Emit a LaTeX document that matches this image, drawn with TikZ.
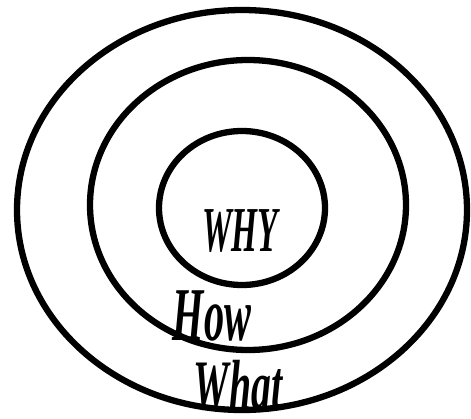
\documentclass[tikz,border=0pt]{standalone}
\usepackage{fontspec}
\setmainfont{Liberation Serif}
\begin{document}
\begin{tikzpicture}[x=1pt,y=1pt,
  ring/.style={draw=black,line width=6.3pt},
  lbl/.style={inner sep=0pt,anchor=base}]
\useasboundingbox (0,0) rectangle (471,418);
\draw[ring] (242,208) ellipse [x radius=225, y radius=200];
\draw[ring] (248,213) ellipse [x radius=158, y radius=145];
\draw[ring] (242,210) ellipse [x radius=83, y radius=77];
\node[lbl,xscale=0.52,font=\bfseries\itshape\fontsize{64}{64}\selectfont] (why) at (240,166) {WHY};
\node[lbl,xscale=0.53,font=\bfseries\itshape\fontsize{76}{76}\selectfont] (how) at (212,78) {How};
\node[lbl,xscale=0.56,font=\bfseries\itshape\fontsize{71}{71}\selectfont] (what) at (238,9) {What};
\end{tikzpicture}
\end{document}
